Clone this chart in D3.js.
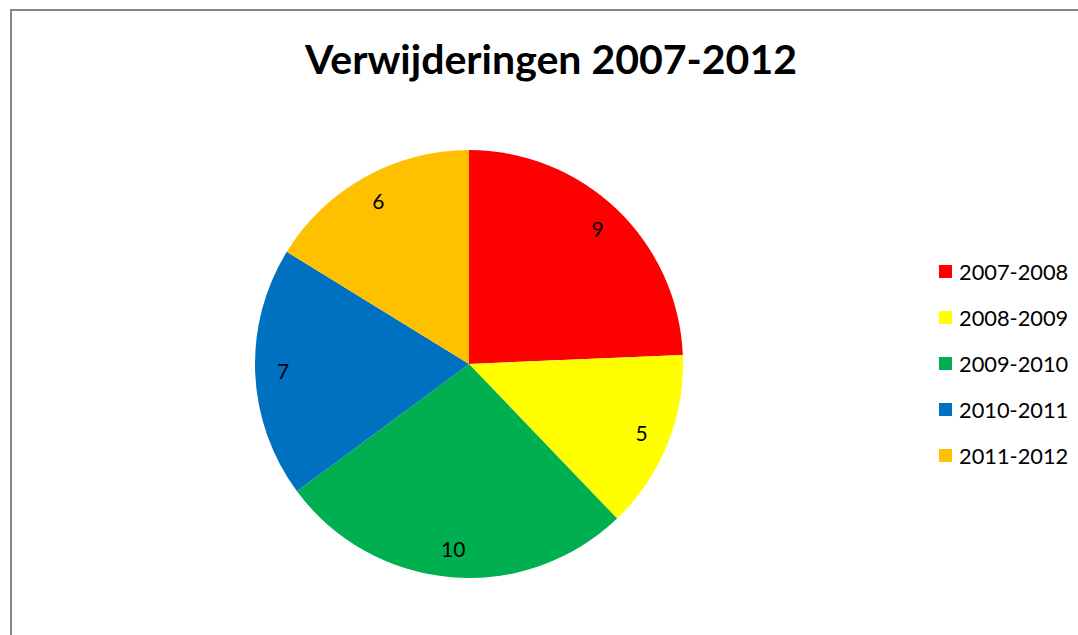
<!DOCTYPE html>
<html>
<head>
<meta charset="utf-8">
<script src="https://cdn.jsdelivr.net/npm/d3@7"></script>
<style>
	body { margin: 0; background: #fff; }
	svg { display: block; }
</style>
</head>
<body>
<svg id="chart"></svg>
<script>
const periods = ["2007-2008", "2008-2009", "2009-2010", "2010-2011", "2011-2012"];
const removals = [9, 5, 10, 7, 6];
const sliceColors = ["#ff0000", "#ffff00", "#00b050", "#0070c0", "#ffc000"];

let svgWidth = 1078, svgHeight = 635;
let svg = d3.select("#chart")
	.attr("width", svgWidth)
	.attr("height", svgHeight);

// chart area border (right/bottom run off the picture)
svg.append("rect")
	.attr("x", 11)
	.attr("y", 10)
	.attr("width", 1090)
	.attr("height", 640)
	.attr("fill", "#fff")
	.attr("stroke", "#868686")
	.attr("stroke-width", 2);

svg.append("text")
	.attr("x", 551)
	.attr("y", 74)
	.attr("text-anchor", "middle")
	.attr("font-family", "Lato, 'Open Sans', sans-serif")
	.attr("font-weight", "bold")
	.attr("font-size", 41)
	.attr("fill", "#000")
	.text("Verwijderingen 2007-2012");

let data = periods.map((p, i) => ({ period: p, value: removals[i] }));
let color = d3.scaleOrdinal().domain(periods).range(sliceColors);

let pie = d3.pie().sort(null).value(d => d.value);
let radius = 214;
let arc = d3.arc().innerRadius(0).outerRadius(radius);
let labelArc = d3.arc().innerRadius(186).outerRadius(186);

let g = svg.append("g")
	.attr("transform", "translate(469,364)");

let arcs = pie(data);

g.selectAll("path")
	.data(arcs)
	.enter()
	.append("path")
	.attr("d", arc)
	.attr("fill", d => color(d.data.period));

g.selectAll(".label")
	.data(arcs)
	.enter()
	.append("text")
	.attr("class", "label")
	.attr("transform", d => "translate(" + labelArc.centroid(d) + ")")
	.attr("text-anchor", "middle")
	.attr("dy", "0.35em")
	.attr("font-family", "Lato, 'Open Sans', sans-serif")
	.attr("font-size", 21)
	.attr("fill", "#000")
	.text(d => d.data.value);

//legend
let legend = svg.append("g")
	.attr("transform", "translate(939,272)");

let item = legend.selectAll(".item")
	.data(periods)
	.enter()
	.append("g")
	.attr("class", "item")
	.attr("transform", (d, i) => "translate(0," + (i * 46) + ")");

item.append("rect")
	.attr("x", 0)
	.attr("y", -7)
	.attr("width", 13)
	.attr("height", 13)
	.attr("fill", d => color(d));

item.append("text")
	.attr("x", 20)
	.attr("dy", "0.35em")
	.attr("font-family", "Lato, 'Open Sans', sans-serif")
	.attr("font-size", 21.8)
	.attr("fill", "#000")
	.text(d => d);
</script>
</body>
</html>
